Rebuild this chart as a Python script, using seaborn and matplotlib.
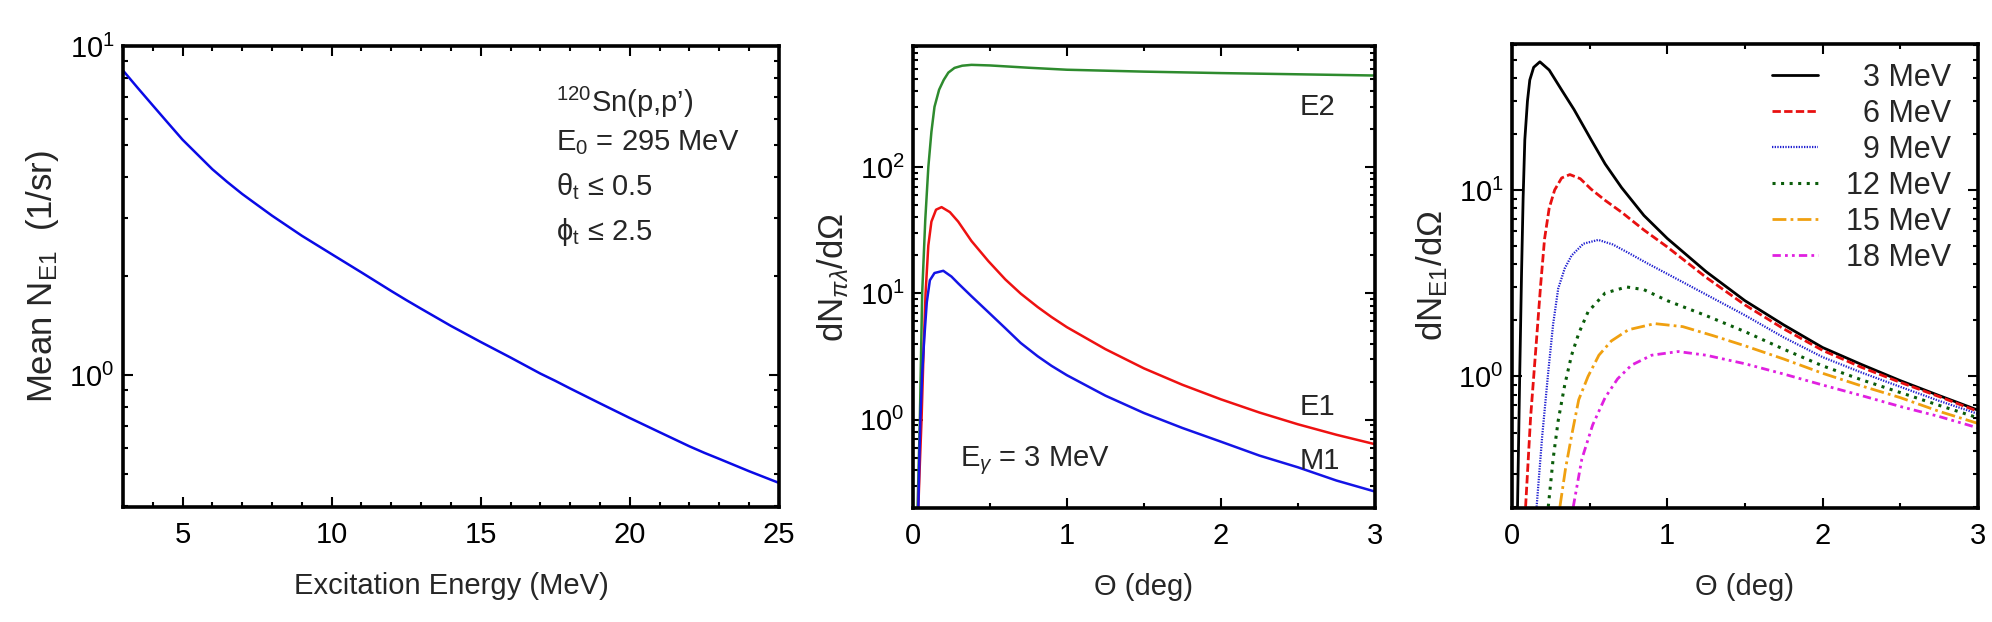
import numpy as np
import pandas as pd
import matplotlib
matplotlib.use("Agg")
import matplotlib.pyplot as plt
import matplotlib.ticker as mticker
import seaborn as sns

# panel 1: mean number of E1 photons vs excitation energy
exc_energy = [3, 3.5, 4, 4.5, 5, 5.5, 6, 6.5, 7, 7.5, 8, 9, 10, 11, 12, 12.5, 13, 14, 15,
              16, 17, 17.5, 18, 19, 20, 21, 22, 22.5, 23, 24, 25]
mean_ne1 = [8.43, 7.45, 6.6, 5.85, 5.19, 4.68, 4.22, 3.86, 3.55, 3.29, 3.05, 2.65, 2.33,
            2.05, 1.80, 1.69, 1.59, 1.41, 1.26, 1.13, 1.01, 0.96, 0.91, 0.82, 0.74, 0.67,
            0.607, 0.58, 0.556, 0.51, 0.47]

# panel 2: multipole angular distributions at E_gamma = 3 MeV
theta_e2 = [0.03, 0.045, 0.06, 0.08, 0.1, 0.12, 0.14, 0.17, 0.2, 0.23, 0.27, 0.32, 0.38,
            0.5, 0.75, 1.0, 1.5, 2.0, 2.5, 3.0]
dn_e2 = [0.2, 1, 10, 38, 100, 190, 300, 410, 490, 560, 610, 635, 645, 638, 612, 590,
         570, 555, 543, 531]
theta_e1 = [0.035, 0.045, 0.056, 0.07, 0.082, 0.1, 0.12, 0.15, 0.186, 0.24, 0.294, 0.38,
            0.49, 0.6, 0.7, 0.81, 0.9, 1.0, 1.25, 1.5, 1.75, 2.0, 2.25, 2.5, 2.75, 3.0]
dn_e1 = [0.2, 0.45, 1, 3.8, 10, 24, 37, 46, 48.2, 44, 37, 26, 18, 12.9, 9.96, 7.8, 6.5,
         5.4, 3.62, 2.55, 1.89, 1.45, 1.14, 0.92, 0.76, 0.64]
theta_m1 = [0.035, 0.041, 0.048, 0.06, 0.073, 0.09, 0.11, 0.14, 0.197, 0.25, 0.294, 0.38,
            0.49, 0.6, 0.7, 0.81, 0.9, 1.0, 1.25, 1.5, 1.75, 2.0, 2.25, 2.5, 2.75, 3.0]
dn_m1 = [0.2, 0.45, 1, 2.3, 4.3, 8.5, 12.7, 14.5, 15.1, 13.6, 12.0, 9.5, 7.1, 5.3, 4.05,
         3.18, 2.67, 2.25, 1.55, 1.13, 0.86, 0.67, 0.52, 0.42, 0.33, 0.27]

# panel 3: E1 angular distributions for several excitation energies
theta_3 = [0.036, 0.05, 0.062, 0.072, 0.083, 0.1, 0.115, 0.14, 0.18, 0.24, 0.32, 0.4,
           0.51, 0.6, 0.706, 0.85, 1.0, 1.25, 1.5, 1.75, 2.0, 2.25, 2.5, 2.75, 3.0]
dn_3 = [0.2, 1.0, 3.6, 9.0, 18.6, 30, 38.9, 45.5, 48.7, 44, 34.4, 27, 18.6, 13.8, 10.3,
        7.3, 5.5, 3.65, 2.55, 1.89, 1.43, 1.16, 0.95, 0.79, 0.66]
theta_6 = [0.088, 0.12, 0.159, 0.185, 0.21, 0.24, 0.275, 0.32, 0.373, 0.44, 0.51, 0.6,
           0.706, 0.85, 1.0, 1.25, 1.5, 1.75, 2.0, 2.25, 2.5, 2.75, 3.0]
dn_6 = [0.2, 0.6, 1.6, 3.1, 5.46, 8.0, 10, 11.6, 12.1, 11.5, 10.1, 8.8, 7.6, 6.1, 4.95,
        3.4, 2.42, 1.80, 1.38, 1.12, 0.93, 0.78, 0.65]
theta_9 = [0.159, 0.195, 0.234, 0.265, 0.298, 0.34, 0.384, 0.46, 0.556, 0.65, 0.75, 0.87,
           1.0, 1.25, 1.5, 1.75, 2.0, 2.25, 2.5, 2.75, 3.0]
dn_9 = [0.2, 0.48, 1.06, 1.9, 2.96, 3.8, 4.45, 5.15, 5.4, 5.1, 4.6, 4.05, 3.55, 2.75,
        2.13, 1.62, 1.27, 1.05, 0.88, 0.74, 0.63]
theta_12 = [0.234, 0.265, 0.298, 0.34, 0.384, 0.43, 0.49, 0.6, 0.738, 0.85, 1.0, 1.25,
            1.5, 1.75, 2.0, 2.25, 2.5, 2.75, 3.0]
dn_12 = [0.2, 0.36, 0.58, 0.9, 1.30, 1.7, 2.22, 2.8, 3.02, 2.92, 2.55, 2.12, 1.74, 1.40,
         1.14, 0.96, 0.82, 0.70, 0.6]
theta_15 = [0.309, 0.345, 0.384, 0.43, 0.49, 0.56, 0.64, 0.75, 0.92, 1.1, 1.3, 1.5,
            1.75, 2.0, 2.25, 2.5, 2.75, 3.0]
dn_15 = [0.2, 0.32, 0.48, 0.75, 1.0, 1.3, 1.55, 1.78, 1.92, 1.85, 1.65, 1.46, 1.24,
         1.04, 0.89, 0.77, 0.65, 0.56]
theta_18 = [0.395, 0.45, 0.52, 0.6, 0.68, 0.77, 0.9, 1.07, 1.25, 1.5, 1.75, 2.0, 2.25,
            2.5, 2.75, 3.0]
dn_18 = [0.2, 0.36, 0.55, 0.77, 0.97, 1.15, 1.3, 1.36, 1.3, 1.17, 1.03, 0.9, 0.79,
         0.69, 0.61, 0.53]

sns.set_theme(style="ticks")
plt.rcParams['font.family'] = ['Liberation Sans', 'DejaVu Sans']
plt.rcParams['mathtext.fontset'] = 'custom'
plt.rcParams['mathtext.rm'] = 'Liberation Sans'
plt.rcParams['mathtext.it'] = 'Liberation Sans:italic'
plt.rcParams['mathtext.sf'] = 'Liberation Sans'

FS = 21
YFS = 25

fig = plt.figure(figsize=(19.92, 6.22), dpi=100)
ax1 = fig.add_axes([0.0617, 0.1849, 0.3293, 0.7412])
ax2 = fig.add_axes([0.4583, 0.1833, 0.2319, 0.7428])
ax3 = fig.add_axes([0.7590, 0.1833, 0.2339, 0.7460])


def style_axes(ax):
    ax.set_yscale('log')
    for s in ax.spines.values():
        s.set_linewidth(2.6)
        s.set_color('black')
    ax.tick_params(which='both', direction='in', top=True, right=True,
                   width=1.5, colors='black', labelsize=FS)
    ax.tick_params(which='major', length=7)
    ax.tick_params(which='minor', length=3.5)
    ax.tick_params(axis='x', pad=10)
    ax.tick_params(axis='y', pad=6)
    ax.yaxis.set_minor_formatter(mticker.NullFormatter())


# ---- panel 1
sns.lineplot(x=exc_energy, y=mean_ne1, ax=ax1, color='#0a0ae6', linewidth=1.8)
style_axes(ax1)
ax1.set_xlim(3, 25)
ax1.set_ylim(0.397, 10)
ax1.xaxis.set_major_locator(mticker.MultipleLocator(5))
ax1.xaxis.set_minor_locator(mticker.MultipleLocator(1))
ax1.set_xlabel('Excitation Energy (MeV)', fontsize=FS, labelpad=17)
ax1.set_ylabel('Mean N$_{\\mathrm{E1}}$  (1/sr)', fontsize=YFS, labelpad=6)
info = ["$^{120}$Sn(p,p’)", "E$_0$ = 295 MeV", "θ$_\\mathrm{t}$ ≤ 0.5", "ϕ$_\\mathrm{t}$ ≤ 2.5"]
for i, t in enumerate(info):
    ax1.text(0.66, (0.878 if i == 0 else 0.888) - i * 0.097, t, transform=ax1.transAxes,
             fontsize=FS, va='center', ha='left')

# ---- panel 2
sns.lineplot(x=theta_e2, y=dn_e2, ax=ax2, color='#2e8b2e', linewidth=1.8)
sns.lineplot(x=theta_e1, y=dn_e1, ax=ax2, color='#ee1111', linewidth=1.8)
sns.lineplot(x=theta_m1, y=dn_m1, ax=ax2, color='#1414e6', linewidth=1.8)
style_axes(ax2)
ax2.set_xlim(0, 3)
ax2.set_ylim(0.2, 910)
ax2.xaxis.set_major_locator(mticker.MultipleLocator(1))
ax2.xaxis.set_minor_locator(mticker.MultipleLocator(0.5))
ax2.set_xlabel('Θ (deg)', fontsize=FS, labelpad=17)
ax2.set_ylabel('dN$_{\\pi\\lambda}$/d$\\Omega$', fontsize=YFS, labelpad=6)
ax2.text(2.51, 300, 'E2', fontsize=FS, va='center')
ax2.text(2.51, 1.26, 'E1', fontsize=FS, va='center')
ax2.text(2.51, 0.47, 'M1', fontsize=FS, va='center')
ax2.text(0.305, 0.47, 'E$_{\\gamma}$ = 3 MeV', fontsize=FS, va='center')

# ---- panel 3
series = [
    (theta_3, dn_3, '\u20073 MeV', 'black', None, 2.0),
    (theta_6, dn_6, '\u20076 MeV', '#e81010', (3, 1.2), 2.0),
    (theta_9, dn_9, '\u20079 MeV', '#2020d0', (0.6, 0.6), 1.6),
    (theta_12, dn_12, '12 MeV', '#0a5c0a', (1.0, 1.8), 2.2),
    (theta_15, dn_15, '15 MeV', '#f0a010', (5, 1.5, 1, 1.5), 2.0),
    (theta_18, dn_18, '18 MeV', '#e020e0', (3, 1.5, 1, 1.5, 1, 1.5), 2.0),
]
for th, dn, lab, col, dash, lw in series:
    sns.lineplot(x=th, y=dn, ax=ax3, color=col, linewidth=lw, label=lab)
    if dash is not None:
        ax3.lines[-1].set_dashes(dash)
style_axes(ax3)
ax3.set_xlim(0, 3)
ax3.set_ylim(0.197, 60.7)
ax3.xaxis.set_major_locator(mticker.MultipleLocator(1))
ax3.xaxis.set_minor_locator(mticker.MultipleLocator(0.5))
ax3.set_xlabel('Θ (deg)', fontsize=FS, labelpad=17)
ax3.set_ylabel('dN$_{\\mathrm{E1}}$/d$\\Omega$', fontsize=YFS, labelpad=6)
ax3.legend(loc='upper right', bbox_to_anchor=(0.942, 0.959), frameon=False,
           fontsize=22, handlelength=1.5, handletextpad=0.9,
           labelspacing=0.195, borderpad=0, borderaxespad=0)

fig.savefig('out.png', dpi=100)
